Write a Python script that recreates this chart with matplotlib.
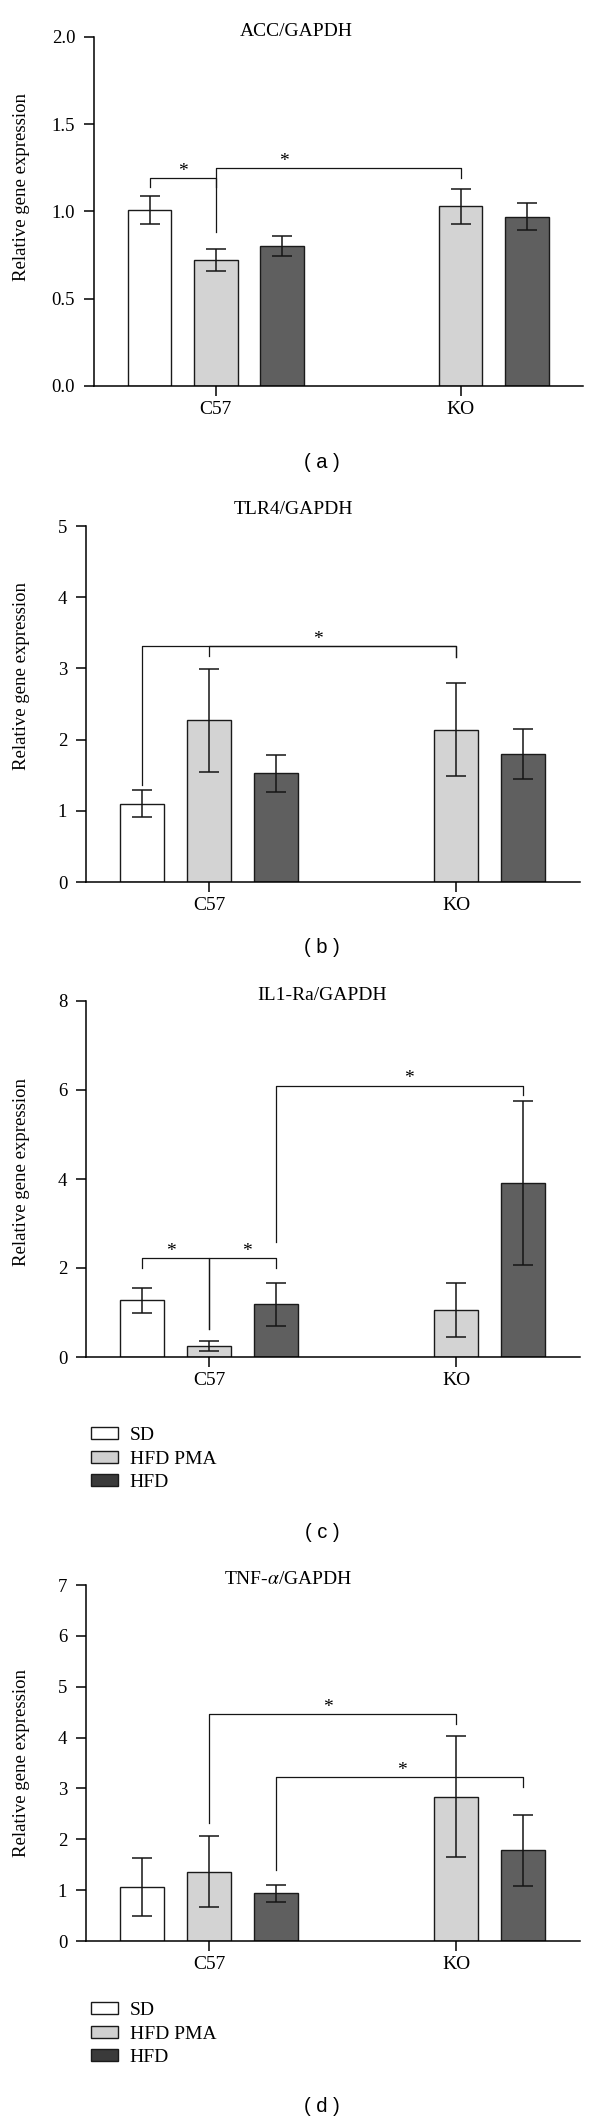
import matplotlib
matplotlib.use("Agg")
import matplotlib.pyplot as plt
from matplotlib.patches import Patch

GROUPS = ["C57", "KO"]
SERIES = ["SD", "HFD PMA", "HFD"]
COLORS = ["white", "#d3d3d3", "#5f5f5f"]
LEGEND_COLORS = ["white", "#d0d0d0", "#3a3a3a"]

# rows = groups (C57, KO), cols = SD, HFD PMA, HFD; KO has no SD bar
ACC_MEAN = [[1.01, 0.72, 0.80], [None, 1.03, 0.97]]
ACC_ERR = [[0.08, 0.063, 0.057], [None, 0.10, 0.075]]
TLR4_MEAN = [[1.10, 2.27, 1.53], [None, 2.14, 1.80]]
TLR4_ERR = [[0.19, 0.72, 0.26], [None, 0.65, 0.35]]
IL1RA_MEAN = [[1.27, 0.25, 1.18], [None, 1.06, 3.91]]
IL1RA_ERR = [[0.27, 0.11, 0.49], [None, 0.60, 1.84]]
TNF_MEAN = [[1.07, 1.36, 0.94], [None, 2.84, 1.78]]
TNF_ERR = [[0.57, 0.70, 0.17], [None, 1.19, 0.69]]

# brackets: (bar A, bar B, height, leg end A, leg end B, star position along bracket or None)
ACC_SIG = [((0, 0), (0, 1), 1.19, 1.14, 1.14, 0.5),
           ((0, 1), (1, 1), 1.25, 0.88, 1.19, 0.28)]
TLR4_SIG = [((0, 0), (1, 1), 3.31, 1.36, 3.16, 0.56),
            ((0, 1), (1, 1), 3.31, 3.17, 3.16, None)]
IL1RA_SIG = [((0, 0), (0, 1), 2.23, 1.99, 0.64, 0.43),
             ((0, 1), (0, 2), 2.23, 0.64, 1.99, 0.57),
             ((0, 2), (1, 2), 6.10, 2.58, 5.88, 0.54)]
TNF_SIG = [((0, 1), (1, 1), 4.46, 2.32, 4.27, 0.48),
           ((0, 2), (1, 2), 3.23, 1.40, 3.03, 0.51)]

TITLES = ["ACC/GAPDH", "TLR4/GAPDH", "IL1-Ra/GAPDH", "TNF-$\\alpha$/GAPDH"]
YTICKS = [[0.0, 0.5, 1.0, 1.5, 2.0], [0, 1, 2, 3, 4, 5], [0, 2, 4, 6, 8], [0, 1, 2, 3, 4, 5, 6, 7]]
PANEL_TAGS = ["( a )", "( b )", "( c )", "( d )"]

W, H = 600, 2122
GROUP_X = [0.0, 3.7]
BAR_W = 0.66
XLIM = (-1.84, 5.55)

plt.rcParams["font.family"] = ["Liberation Serif", "DejaVu Serif"]
plt.rcParams["mathtext.fontset"] = "stix"

fig = plt.figure(figsize=(W / 100, H / 100), dpi=100)


def px_rect(left, right, top, bottom):
    return [left / W, 1 - bottom / H, (right - left) / W, (bottom - top) / H]


def bar_x(bar):
    g, s = bar
    return GROUP_X[g] + s - 1


def draw_panel(rect, means, errs, sig, yticks, fmt, ylab_y):
    ax = fig.add_axes(rect)
    for g in range(len(GROUPS)):
        for s in range(len(SERIES)):
            m = means[g][s]
            if m is None:
                continue
            x = bar_x((g, s))
            ax.bar(x, m, width=BAR_W, color=COLORS[s], edgecolor="#1a1a1a", lw=1.0, zorder=2)
            ax.errorbar(x, m, yerr=errs[g][s], fmt="none", ecolor="#151515",
                        elinewidth=1.1, capsize=7.5, capthick=1.1, zorder=3)
    for a, b, h, ya, yb, star in sig:
        xa, xb = bar_x(a), bar_x(b)
        ax.plot([xa, xa, xb, xb], [ya, h, h, yb], color="#151515", lw=0.9, zorder=4)
        if star is not None:
            ax.annotate("*", (xa + star * (xb - xa), h), xytext=(0, 1.5),
                        textcoords="offset points", ha="center", va="baseline", fontsize=14)
    ax.set_xlim(*XLIM)
    ax.set_ylim(yticks[0], yticks[-1])
    ax.set_yticks(yticks)
    ax.set_yticklabels([fmt.format(t) for t in yticks])
    ax.set_xticks(GROUP_X)
    ax.set_xticklabels(GROUPS)
    ax.spines[["top", "right"]].set_visible(False)
    ax.spines[["left", "bottom"]].set_linewidth(1.1)
    ax.tick_params(axis="y", length=7, width=1.1, pad=6.5, labelsize=13.5)
    ax.tick_params(axis="x", length=7, width=1.1, pad=4, labelsize=14)
    ax.set_ylabel("Relative gene expression", fontsize=13.5)
    ax.yaxis.set_label_coords((30 - rect[0] * W) / (rect[2] * W), ylab_y)
    return ax


draw_panel(px_rect(94, 583, 36.7, 386), ACC_MEAN, ACC_ERR, ACC_SIG, YTICKS[0], "{:.1f}", 0.57)
draw_panel(px_rect(86, 580, 526, 882), TLR4_MEAN, TLR4_ERR, TLR4_SIG, YTICKS[1], "{:.0f}", 0.58)
draw_panel(px_rect(86, 580, 1001, 1357), IL1RA_MEAN, IL1RA_ERR, IL1RA_SIG, YTICKS[2], "{:.0f}", 0.52)
draw_panel(px_rect(86, 580, 1585, 1941), TNF_MEAN, TNF_ERR, TNF_SIG, YTICKS[3], "{:.0f}", 0.50)

for title, (tx, ty) in zip(TITLES, [(296, 31.7), (293, 510), (322, 995), (288.5, 1579)]):
    fig.text(tx / W, 1 - ty / H, title, ha="center", va="center", fontsize=14)

for tag, ty in zip(PANEL_TAGS, [463, 948, 1533, 2106]):
    fig.text(322 / W, 1 - ty / H, tag, ha="center", va="center", fontsize=14.5,
             family=["Liberation Sans", "DejaVu Sans"])

handles = [Patch(facecolor=c, edgecolor="#1a1a1a", lw=1.0) for c in LEGEND_COLORS]
for top in [1427, 2002]:
    fig.legend(handles, SERIES, loc="upper left", bbox_to_anchor=(91 / W, 1 - top / H),
               frameon=False, borderpad=0, borderaxespad=0, handlelength=1.4,
               handleheight=0.55, handletextpad=0.6, labelspacing=0.34, fontsize=14)

fig.savefig("out.png", dpi=100)
